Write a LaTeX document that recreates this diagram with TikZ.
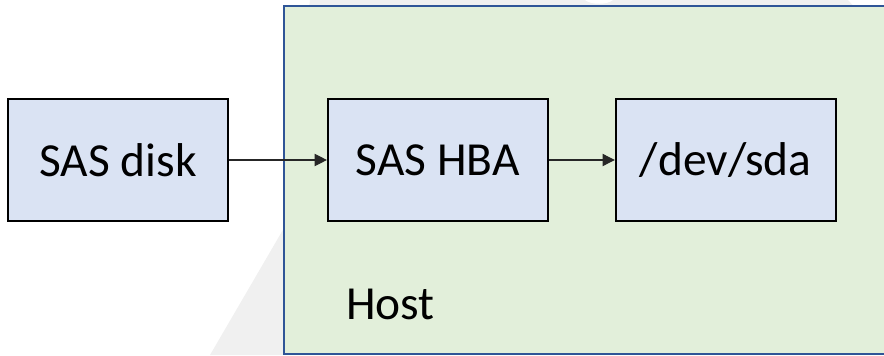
\documentclass[tikz,border=0pt]{standalone}
\usepackage{fontspec}
\setmainfont{Carlito}
\usepackage{xcolor}
\usepackage{tikz}
\usetikzlibrary{arrows.meta}
\usetikzlibrary{calc}
\usetikzlibrary{positioning}

\definecolor{boxblue}{RGB}{218,227,243}
\definecolor{hostgreen}{RGB}{226,239,218}
\definecolor{hostline}{RGB}{47,85,151}
\definecolor{wmgray}{RGB}{240,240,240}

\begin{document}
\begin{tikzpicture}[x=0.02cm,y=-0.02cm,node distance=2.5cm,semithick]
 				 \tikzstyle{blok}=[draw, line width=1.1pt, fill=boxblue, minimum width=4.4cm, minimum height=2.44cm, inner sep=0pt, font=\fontsize{27}{31}\selectfont]
 				 \tikzstyle{hostbox}=[draw=hostline, line width=1.4pt, fill=hostgreen, minimum width=12.1cm, minimum height=6.96cm, inner sep=0pt]
 				 \tikzstyle{link}=[line width=0.6pt, draw=black!85, -{Triangle[length=7pt,width=7pt]}]
			\useasboundingbox (0,0) rectangle (884,355);
			\fill[wmgray] (210,355) -- (284,228) -- (310,0) -- (848,0) -- (884,40) -- (884,355) -- cycle;
			\fill[white] (585,0) .. controls (591,5) and (607,5) .. (613,0) -- cycle;

			\node[hostbox] (host) at (586.5,180) {};
			\node[blok]  (disk) at (118,160) {SAS disk};
			\node[blok]  (hba) [right=1.96cm of disk] {SAS HBA};
		 	\node[blok]  (sda) [right=1.32cm of hba] {/dev/sda};
		 	\node[anchor=base west, inner sep=0pt, font=\fontsize{27}{31}\selectfont] (hostlbl) at ($(host.south west)+(63,-36)$) {Host};

		 	\draw[link] (disk) -- (hba);
		 	\draw[link] (hba) -- (sda);
 	\end{tikzpicture}
\end{document}
